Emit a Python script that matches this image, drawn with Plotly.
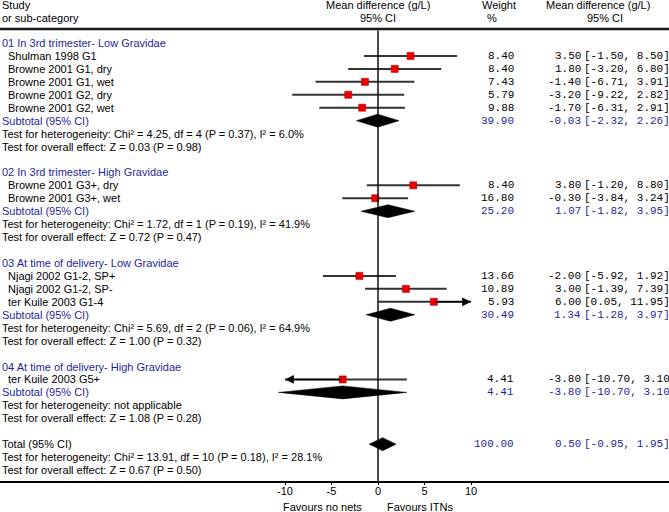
import plotly.graph_objects as go

# ---------------- data ----------------
group_titles = [
    "01 In 3rd trimester- Low Gravidae",
    "02 In 3rd trimester- High Gravidae",
    "03 At time of delivery- Low Gravidae",
    "04 At time of delivery- High Gravidae",
]
study_names = [
    "Shulman 1998 G1", "Browne 2001 G1, dry", "Browne 2001 G1, wet",
    "Browne 2001 G2, dry", "Browne 2001 G2, wet",
    "Browne 2001 G3+, dry", "Browne 2001 G3+, wet",
    "Njagi 2002 G1-2, SP+", "Njagi 2002 G1-2, SP-", "ter Kuile 2003 G1-4",
    "ter Kuile 2003 G5+",
]
study_group = [0, 0, 0, 0, 0, 1, 1, 2, 2, 2, 3]
study_md = [3.50, 1.80, -1.40, -3.20, -1.70, 3.80, -0.30, -2.00, 3.00, 6.00, -3.80]
study_lo = [-1.50, -3.20, -6.71, -9.22, -6.31, -1.20, -3.84, -5.92, -1.39, 0.05, -10.70]
study_hi = [8.50, 6.80, 3.91, 2.82, 2.91, 8.80, 3.24, 1.92, 7.39, 11.95, 3.10]
study_weight = [8.40, 8.40, 7.43, 5.79, 9.88, 8.40, 16.80, 13.66, 10.89, 5.93, 4.41]

sub_md = [-0.03, 1.07, 1.34, -3.80]
sub_lo = [-2.32, -1.82, -1.28, -10.70]
sub_hi = [2.26, 3.95, 3.97, 3.10]
sub_weight = [39.90, 25.20, 30.49, 4.41]
sub_het = [
    "Chi² = 4.25, df = 4 (P = 0.37), I² = 6.0%",
    "Chi² = 1.72, df = 1 (P = 0.19), I² = 41.9%",
    "Chi² = 5.69, df = 2 (P = 0.06), I² = 64.9%",
    "not applicable",
]
sub_z = ["Z = 0.03 (P = 0.98)", "Z = 0.72 (P = 0.47)", "Z = 1.00 (P = 0.32)", "Z = 1.08 (P = 0.28)"]

total_md = 0.50
total_lo = -0.95
total_hi = 1.95
total_weight = 100.00
total_het = "Chi² = 13.91, df = 10 (P = 0.18), I² = 28.1%"
total_z = "Z = 0.67 (P = 0.50)"

tick_vals = [-10, -5, 0, 5, 10]
tick_text = ["-10", "-5", "0", "5", "10"]
axis_limit = 10
favours_left = "Favours no nets"
favours_right = "Favours ITNs"

# ---------------- layout geometry (pixels) ----------------
W, H = 669, 512
ZERO_PX = 378.0
PPU = 9.3
ROW0 = 43.0
ROWH = 12.94
AXIS_Y = 481.0
HALF_D = 6.5

SANS = "Liberation Sans, Arial, sans-serif"
MONO = "Liberation Mono, Courier New, monospace"
BLUE = "#1f1f9c"
FS = 11

xmin = -ZERO_PX / PPU
xmax = (W - ZERO_PX) / PPU

fig = go.Figure()
ann = []


def px(xp):
    return xp / W


def text(xp, y, s, anchor="left", color="black", mono=False, size=FS):
    ann.append(dict(x=px(xp), xref="paper", y=y, yref="y", text=s, showarrow=False,
                    xanchor=anchor, yanchor="middle",
                    font=dict(family=MONO if mono else SANS, size=size, color=color)))


def numbers(y, w, md, lo, hi, color):
    text(516, y, f"{w:.2f}", anchor="right", color=color, mono=True)
    text(583, y, f"{md:.2f}", anchor="right", color=color, mono=True)
    text(582, y, f"[{lo:.2f}, {hi:.2f}]", anchor="left", color=color, mono=True)


ci_x, ci_y = [], []
pt_x, pt_y = [], []
dia_x, dia_y = [], []


def diamond(y, md, lo, hi):
    dia_x.extend([lo, md, hi, md, lo, None])
    dia_y.extend([y, y - HALF_D, y, y + HALF_D, y, None])


row = 0
for g, title in enumerate(group_titles):
    y = ROW0 + ROWH * row
    text(0, y, title, color=BLUE)
    row += 1
    for i, name in enumerate(study_names):
        if study_group[i] != g:
            continue
        y = ROW0 + ROWH * row
        text(6, y, name)
        numbers(y, study_weight[i], study_md[i], study_lo[i], study_hi[i], "black")
        lo = max(study_lo[i], -axis_limit)
        hi = min(study_hi[i], axis_limit)
        ci_x.extend([lo, hi, None])
        ci_y.extend([y, y, None])
        pt_x.append(study_md[i])
        pt_y.append(y)
        if study_hi[i] > axis_limit:
            ann.append(dict(x=axis_limit, y=y, xref="x", yref="y", ax=study_md[i], ay=y,
                            axref="x", ayref="y", text="", showarrow=True, arrowhead=2,
                            arrowsize=1.1, arrowwidth=1.6, arrowcolor="black"))
        if study_lo[i] < -axis_limit:
            ann.append(dict(x=-axis_limit, y=y, xref="x", yref="y", ax=study_md[i], ay=y,
                            axref="x", ayref="y", text="", showarrow=True, arrowhead=2,
                            arrowsize=1.1, arrowwidth=1.6, arrowcolor="black"))
        row += 1
    y = ROW0 + ROWH * row
    text(0, y, "Subtotal (95% CI)", color=BLUE)
    numbers(y, sub_weight[g], sub_md[g], sub_lo[g], sub_hi[g], BLUE)
    diamond(y, sub_md[g], sub_lo[g], sub_hi[g])
    row += 1
    text(0, ROW0 + ROWH * row, "Test for heterogeneity: " + sub_het[g])
    row += 1
    text(0, ROW0 + ROWH * row, "Test for overall effect: " + sub_z[g])
    row += 2

y = ROW0 + ROWH * row
text(0, y, "Total (95% CI)")
numbers(y, total_weight, total_md, total_lo, total_hi, BLUE)
diamond(y, total_md, total_lo, total_hi)
row += 1
text(0, ROW0 + ROWH * row, "Test for heterogeneity: " + total_het)
row += 1
text(0, ROW0 + ROWH * row, "Test for overall effect: " + total_z)

# headers
text(0, 5, "Study")
text(0, 17.5, "or sub-category")
text(ZERO_PX, 5, "Mean difference (g/L)", anchor="center")
text(ZERO_PX, 17.5, "95% CI", anchor="center")
text(499, 5, "Weight", anchor="center")
text(492, 17.5, "%", anchor="center")
text(598, 5, "Mean difference (g/L)", anchor="center")
text(605, 17.5, "95% CI", anchor="center")

# favours labels
for xp, s in [(322, favours_left), (420, favours_right)]:
    ann.append(dict(x=px(xp), xref="paper", y=(H - 506.5) / H, yref="paper", text=s,
                    showarrow=False, xanchor="center", yanchor="middle",
                    font=dict(family=SANS, size=FS, color="black")))

fig.add_trace(go.Scatter(x=ci_x, y=ci_y, mode="lines", line=dict(color="#333333", width=2),
                         hoverinfo="skip", showlegend=False))
fig.add_trace(go.Scatter(x=dia_x, y=dia_y, mode="lines", fill="toself", fillcolor="black",
                         line=dict(color="black", width=0.5), hoverinfo="skip", showlegend=False))
fig.add_trace(go.Scatter(x=pt_x, y=pt_y, mode="markers",
                         marker=dict(symbol="square", size=7, color="#ee0000",
                                     line=dict(color="#b00000", width=0.6)),
                         hoverinfo="skip", showlegend=False))

shapes = [
    dict(type="line", xref="paper", yref="y", x0=0, x1=1, y0=29, y1=29,
         line=dict(color="#1a1a1a", width=2.5)),
    dict(type="line", xref="x", yref="y", x0=0, x1=0, y0=30.5, y1=AXIS_Y,
         line=dict(color="black", width=1.4)),
]

fig.update_layout(
    width=W, height=H,
    margin=dict(l=0, r=0, t=0, b=0),
    paper_bgcolor="white", plot_bgcolor="white",
    showlegend=False,
    annotations=ann,
    shapes=shapes,
    xaxis=dict(range=[xmin, xmax], showgrid=False, zeroline=False,
               showline=True, linecolor="black", linewidth=2,
               tickmode="array", tickvals=tick_vals, ticktext=tick_text,
               ticks="outside", ticklen=2, tickwidth=1, tickcolor="black",
               ticklabelstandoff=-3,
               tickfont=dict(family=SANS, size=FS, color="black"), fixedrange=True),
    yaxis=dict(range=[AXIS_Y, 0], domain=[(H - AXIS_Y) / H, 1], visible=False,
               showgrid=False, zeroline=False, fixedrange=True),
)

fig.write_html(
    "out.html",
    config={"displayModeBar": False, "staticPlot": True},
    post_script="document.body.style.margin='0';document.body.style.padding='0';"
                "document.body.style.overflow='hidden';",
)
